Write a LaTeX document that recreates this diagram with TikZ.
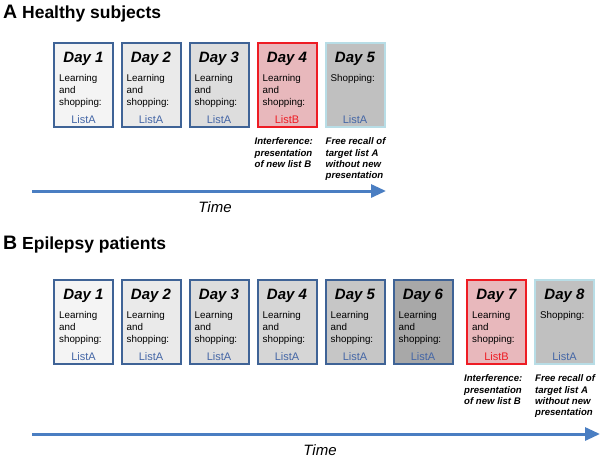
\documentclass[tikz,border=0pt]{standalone}
\usepackage{fontspec}
\setmainfont{Liberation Sans}
\usetikzlibrary{arrows.meta}
\definecolor{bordblue}{HTML}{3F6396}
\definecolor{listblue}{HTML}{4466A6}
\definecolor{arrowblue}{HTML}{4A7EC2}
\definecolor{redbord}{HTML}{EE1C24}
\definecolor{redfill}{HTML}{E8B8BC}
\definecolor{cyanbord}{HTML}{B8DDE6}
\definecolor{g1}{HTML}{F4F4F4}
\definecolor{g2}{HTML}{EAEAEA}
\definecolor{g3}{HTML}{DDDDDD}
\definecolor{g4}{HTML}{D6D6D6}
\definecolor{g5}{HTML}{C6C6C6}
\definecolor{g6}{HTML}{A8A8A8}
\definecolor{g8}{HTML}{C0C0C0}
\tikzset{
  daybox/.style={draw=#1, line width=2pt, minimum width=59pt, minimum height=84pt, inner sep=0pt},
  daytitle/.style={font=\fontsize{15}{15}\selectfont\bfseries\itshape, anchor=base},
  bodytxt/.style={font=\fontsize{9.8}{11.7}\selectfont, anchor=north west, align=left, inner sep=0pt},
  listtxt/.style={font=\fontsize{11}{11}\selectfont, anchor=base},
  annot/.style={font=\fontsize{9.6}{11.4}\selectfont\bfseries\itshape, anchor=north west, align=left, inner sep=0pt},
  timeline/.style={arrowblue, line width=3pt, -{Triangle[length=15pt,width=13pt]}},
  timetxt/.style={font=\fontsize{15}{15}\selectfont\itshape, anchor=base},
  paneltitle/.style={font=\fontsize{17.5}{18}\selectfont\bfseries, anchor=base west, inner sep=0pt}
}
\newcommand\mydaybox[9]{%
  \node[daybox=#6, fill=#5] (#1) at (#2,#3) {};
  \node[daytitle] (#1t) at ([yshift=-20pt]#1.north) {Day #4};
  \node[bodytxt] (#1b) at ([xshift=6pt,yshift=-32.5pt]#1.north west) {#7};
  \node[listtxt, text=#9] (#1l) at ([yshift=4.5pt]#1.south) {#8};
}
\begin{document}
\begin{tikzpicture}[x=1pt,y=-1pt]
\useasboundingbox (0,0) rectangle (600,458);
% Panel A
\node[paneltitle] (ta) at (3,18.5) {{\fontsize{19.5}{19}\selectfont A} Healthy subjects};
\mydaybox{a1}{83.5}{85}{1}{g1}{bordblue}{Learning\\and\\shopping:}{ListA}{listblue}
\mydaybox{a2}{151}{85}{2}{g2}{bordblue}{Learning\\and\\shopping:}{ListA}{listblue}
\mydaybox{a3}{219}{85}{3}{g3}{bordblue}{Learning\\and\\shopping:}{ListA}{listblue}
\mydaybox{a4}{287}{85}{4}{redfill}{redbord}{Learning\\and\\shopping:}{ListB}{redbord}
\mydaybox{a5}{355}{85}{5}{g8}{cyanbord}{Shopping:}{ListA}{listblue}
\node[annot] (na4) at ([xshift=-2pt,yshift=-9.5pt]a4.south west) {Interference:\\presentation\\of new list B};
\node[annot] (na5) at ([xshift=1pt,yshift=-9.5pt]a5.south west) {Free recall of\\target list A\\without new\\presentation};
\coordinate (asa) at (32,191);
\coordinate (aea) at (386,191);
\draw[timeline] (asa) -- (aea);
\node[timetxt] (tima) at (215,212) {Time};
% Panel B
\node[paneltitle] (tb) at (3,249) {{\fontsize{19.5}{19}\selectfont B} Epilepsy patients};
\mydaybox{b1}{83.5}{322}{1}{g1}{bordblue}{Learning\\and\\shopping:}{ListA}{listblue}
\mydaybox{b2}{151}{322}{2}{g2}{bordblue}{Learning\\and\\shopping:}{ListA}{listblue}
\mydaybox{b3}{219}{322}{3}{g3}{bordblue}{Learning\\and\\shopping:}{ListA}{listblue}
\mydaybox{b4}{287}{322}{4}{g4}{bordblue}{Learning\\and\\shopping:}{ListA}{listblue}
\mydaybox{b5}{355}{322}{5}{g5}{bordblue}{Learning\\and\\shopping:}{ListA}{listblue}
\mydaybox{b6}{423}{322}{6}{g6}{bordblue}{Learning\\and\\shopping:}{ListA}{listblue}
\mydaybox{b7}{496.5}{322}{7}{redfill}{redbord}{Learning\\and\\shopping:}{ListB}{redbord}
\mydaybox{b8}{564.5}{322}{8}{g8}{cyanbord}{Shopping:}{ListA}{listblue}
\node[annot] (nb7) at ([xshift=-2pt,yshift=-9.5pt]b7.south west) {Interference:\\presentation\\of new list B};
\node[annot] (nb8) at ([xshift=1pt,yshift=-9.5pt]b8.south west) {Free recall of\\target list A\\without new\\presentation};
\coordinate (bsa) at (32,434);
\coordinate (bea) at (600,434);
\draw[timeline] (bsa) -- (bea);
\node[timetxt] (timb) at (320,455) {Time};
\end{tikzpicture}
\end{document}
